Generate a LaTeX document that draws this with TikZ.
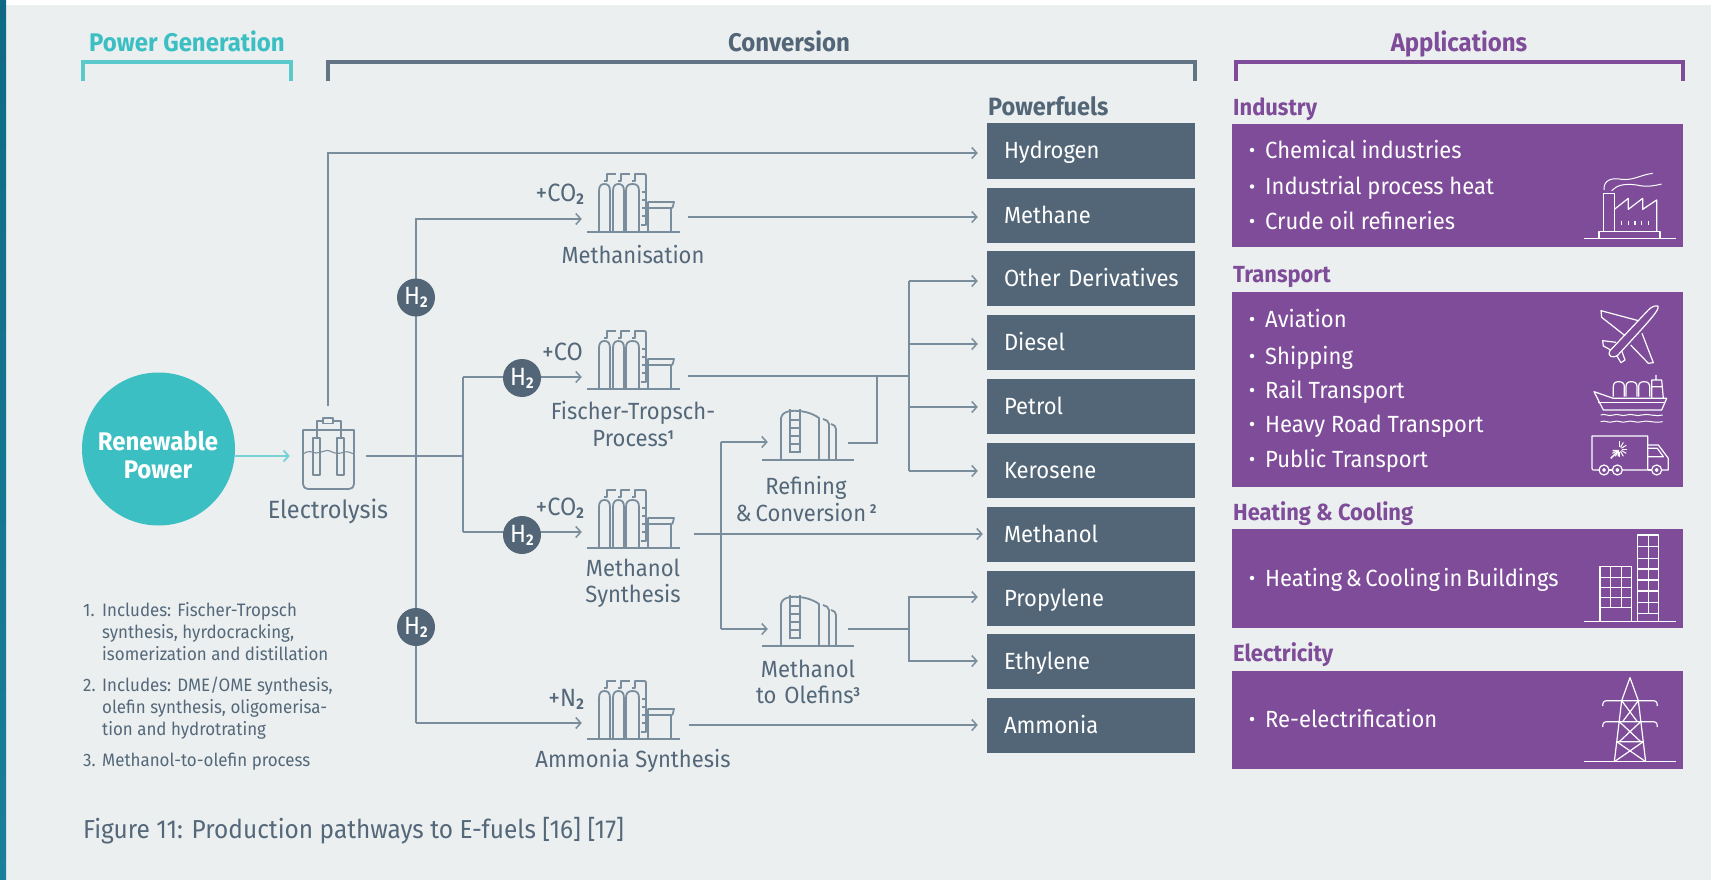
\documentclass[tikz,border=0pt]{standalone}
\usepackage{fontspec}
\setmainfont[FakeStretch=0.94]{Fira Sans}
\usetikzlibrary{arrows.meta,calc}
\definecolor{bgc}{HTML}{EBEFF0}
\definecolor{linec}{HTML}{7A8D9C}
\definecolor{darkc}{HTML}{526677}
\definecolor{textc}{HTML}{54687A}
\definecolor{tealc}{HTML}{3CBFC3}
\definecolor{purp}{HTML}{7E4C99}
\definecolor{stripa}{HTML}{0E6A84}
\definecolor{stripb}{HTML}{1A7F9A}
\newcommand\fs[1]{\fontsize{#1}{#1}\selectfont}
\newcommand\sbs[1]{\raisebox{-.22ex}{\scalebox{.62}{\textbf{#1}}}}
\newcommand\sps[1]{\raisebox{.62ex}{\scalebox{.55}{\textbf{#1}}}}
\tikzset{
  x=1pt,y=-1pt,
  conn/.style={draw=linec,line width=1.8pt},
  arrw/.style={conn,-{Straight Barb[length=5pt,width=11pt,line width=1.5pt]}},
  gapped/.style={shorten >=9pt},
  fuelbox/.style={fill=darkc,text=white,minimum width=208pt,minimum height=55pt,inner sep=0pt,align=left,text width=174pt,text height=16pt,text depth=0pt,font=\fs{23.4}},
  head/.style={font=\fs{25.5}\bfseries,inner sep=0pt,anchor=base},
  appbox/.style={fill=purp,inner sep=0pt,anchor=north west},
  apphead/.style={text=purp,font=\fs{23.3}\bfseries,anchor=west,inner sep=0pt,text height=16pt,text depth=0pt},
  bullet/.style={text=white,font=\fs{23.4},anchor=west,inner sep=0pt,text height=16pt,text depth=0pt},
  bdot/.style={circle,fill=white,inner sep=0pt,minimum size=4.5pt},
  lbl/.style={text=textc,font=\fs{23.4},align=center,inner sep=0pt},
  note/.style={text=textc,font=\fs{18},anchor=west,inner sep=0pt,text height=11pt,text depth=0pt},
  hub/.style={circle,fill=darkc,text=white,minimum size=38pt,inner sep=0pt,font=\fs{25}},
  unitbox/.style={minimum width=106pt,minimum height=60pt,inner sep=0pt},
  tankbox/.style={minimum width=80pt,minimum height=60pt,inner sep=0pt},
  bracket/.style={line width=3.2pt},
  pline/.style={draw=linec,line width=1.8pt,line join=round},
  iconw/.style={draw=white,line width=1.2pt,line join=round},
  reactor/.pic={
    \draw[pline] (0,0)--(93,0);
    \foreach \a/\w in {12/11,26/11,39/13}{\draw[pline] (\a,0)--(\a,-41) .. controls (\a,-46) and (\a+2,-48) .. (\a+\w/2,-48) .. controls (\a+\w-2,-48) and (\a+\w,-46) .. (\a+\w,-41)--(\a+\w,0);}
    \foreach \a in {17,31,45}{\draw[pline,line width=1.4pt] (\a,-51)--(\a+3,-51)--(\a+3,-58)--(\a+12,-58);}
    \draw[pline] (50,-58)--(57,-58) .. controls (59,-58) .. (59,-55)--(59,-7)--(54,-7);
    \foreach \b in {-40,-32,-24,-16}{\draw[pline,line width=1.4pt] (55,\b)--(59,\b);}
    \draw[pline] (61,0)--(61,-30)--(87,-30)--(86,-26) .. controls (85.5,-24) .. (84,-24)--(84,0);
    \draw[pline] (61,-24)--(84,-24);
  },
  tank/.pic={
    \draw[pline] (0,0)--(92,0);
    \draw[pline] (19,0)--(19,-42) .. controls (20,-47) and (24,-48) .. (28,-49) .. controls (40,-50) and (50,-47) .. (57,-42)--(57,0);
    \draw[pline] (61,-41) .. controls (64,-40) and (67,-39) .. (67,-36)--(67,0);
    \draw[pline] (69,-36) .. controls (72,-35) and (74,-34) .. (74,-31)--(74,0);
    \draw[pline] (28,-51)--(28,-7) (38,-51)--(38,-7);
    \foreach \b in {-40,-32,-24,-16,-8}{\draw[pline,line width=1.3pt] (28,\b)--(38,\b);}
  }
}
\begin{document}
\begin{tikzpicture}
\useasboundingbox (0,0) rectangle (1711,880);
\fill[white] (0,0) rectangle (1711,880);
\fill[bgc] (6,5) rectangle (1711,880);
\shade[top color=stripa,bottom color=stripb] (0,0) rectangle (6,880);

% brackets and column heads
\node[head,text=tealc] (hpow) at (187,52) {Power Generation};
\node[head,text=darkc] (hcon) at (789,52) {Conversion};
\node[head,text=purp] (happ) at (1459,52) {Applications};
\draw[bracket,draw=tealc!85] (83,81)--(83,62)--(291,62)--(291,81);
\draw[bracket,draw=darkc!90] (328,81)--(328,62)--(1195,62)--(1195,81);
\draw[bracket,draw=purp] (1236,81)--(1236,62)--(1683,62)--(1683,81);

% powerfuels
\node[text=darkc,font=\fs{25}\bfseries,anchor=base west,inner sep=0pt] (hfuel) at (988,116) {Powerfuels};
\node[fuelbox] (hyd) at (1091,151) {Hydrogen};
\node[fuelbox] (mth) at (1091,215.5) {Methane};
\node[fuelbox] (oth) at (1091,278) {\mbox{Other Derivatives}};
\node[fuelbox] (die) at (1091,342) {Diesel};
\node[fuelbox] (pet) at (1091,406) {Petrol};
\node[fuelbox] (ker) at (1091,470) {Kerosene};
\node[fuelbox] (mol) at (1091,534) {Methanol};
\node[fuelbox] (pro) at (1091,598) {Propylene};
\node[fuelbox] (eth) at (1091,661.5) {Ethylene};
\node[fuelbox] (amm) at (1091,725) {Ammonia};

% renewable and electrolysis
\node[circle,fill=tealc,minimum size=153pt,inner sep=0pt] (ren) at (158.5,449) {};
\node[text=white,font=\fs{25.5}\bfseries,align=center,inner sep=0pt] (rent) at (158,455) {Renewable\\[2.5pt]Power};
\node[minimum width=76pt,minimum height=90pt,inner sep=0pt] (ely) at (328,456) {};
\draw[pline] (303,432) -- (303,484) .. controls (303,487) and (305,489) .. (308,489) -- (349,489) .. controls (352,489) and (354,487) .. (354,484) -- (354,430) -- (303,430) -- (303,432);
\draw[pline] (317,438)--(317,421)--(323,421) (333,421)--(341,421)--(341,438);
\draw[pline] (323,418) rectangle (333,423.5);
\draw[pline] (313,438) rectangle (320,475);
\draw[pline] (337,438) rectangle (344,475);
\draw[pline,line width=1.1pt] (303,454) .. controls (308,450) and (312,452) .. (316,453) .. controls (322,453) and (326,449) .. (330,451) .. controls (335,454) and (340,454) .. (344,452) .. controls (348,451) and (351,453) .. (354,454);
\node[lbl,font=\fs{25}] (lely) at (328,511) {Electrolysis};

% units
\node[unitbox] (umth) at (635,218) {};
\node[unitbox] (uft) at (635,376) {};
\node[unitbox] (umol) at (635,533) {};
\node[unitbox] (uamm) at (635,724) {};
\node[tankbox] (uref) at (808,442) {};
\node[tankbox] (umto) at (808,629) {};
\pic at (587,232) {reactor};
\pic at (587,389) {reactor};
\pic at (587,548) {reactor};
\pic at (587,739) {reactor};
\pic at (762,460) {tank};
\pic at (762,646) {tank};

\node[lbl,anchor=east,font=\fs{25}] (lco2a) at (584,194) {+CO\sbs{2}};
\node[lbl,anchor=east,font=\fs{25}] (lco) at (583,352) {+CO};
\node[lbl,anchor=east,font=\fs{25}] (lco2b) at (584,508) {+CO\sbs{2}};
\node[lbl,anchor=east,font=\fs{25}] (ln2) at (584,699) {+N\sbs{2}};
\node[lbl] (lmth) at (633,255) {Methanisation};
\node[lbl,text width=200pt] (lft) at (633,424) {Fischer-Tropsch-\\[4pt]Process\sps{1}};
\node[lbl,text width=200pt] (lmol) at (633,583) {Methanol\\[3pt]Synthesis};
\node[lbl] (lamm) at (633,761) {Ammonia Synthesis};
\node[lbl,text width=200pt] (lref) at (806,499) {Refining\\[3pt]\&\,Conversion\,\sps{2}};
\node[lbl,text width=200pt] (lmto) at (808,682) {Methanol\\[3pt]to Olefins\sps{3}};

% junction coordinates
\coordinate (jh) at (328,153);
\coordinate (jb) at (463,456);
\coordinate (jmin) at (416,219);
\coordinate (jmout) at (688,217);
\coordinate (jftin) at (463,377);
\coordinate (jmolin) at (463,532);
\coordinate (jammin) at (416,723);
\coordinate (jammout) at (689,725);
\coordinate (jft) at (909,376);
\coordinate (jref) at (877,376);
\coordinate (jrefo) at (877,443);
\coordinate (jmolo) at (694,534);
\coordinate (jolt) at (721,442);
\coordinate (jolb) at (721,629);
\coordinate (jmto) at (909,629);

% connectors
\draw[conn,draw=tealc!70,line width=2.2pt,-{Straight Barb[length=5pt,width=11pt,line width=1.8pt]}] (ren.east |- ely.west) -- (ely.west);
\draw[arrw,gapped] (ely.north |- 0,406) -- (jh) -- (jh -| hyd.west);
\draw[conn] (ely.east) -- (jb);
\draw[arrw] (jammin) -- (jmin) -- (jmin -| umth.west);
\draw[arrw] (jammin) -- (jammin -| uamm.west);
\draw[arrw] (jftin) -- (jftin -| uft.west);
\draw[conn] (jftin) -- (jmolin);
\draw[arrw] (jmolin) -- (jmolin -| umol.west);
\draw[arrw,gapped] (jmout) -- (jmout -| mth.west);
\draw[conn] (uft.east |- jft) -- (jft);
\draw[conn] (jft) -- (jft |- 0,471);
\draw[arrw,gapped] (jft |- 0,281) -- (oth.west |- 0,281);
\draw[conn] (jft) -- (jft |- 0,281);
\draw[arrw,gapped] (jft |- 0,344) -- (die.west |- 0,344);
\draw[arrw,gapped] (jft |- 0,407) -- (pet.west |- 0,407);
\draw[arrw,gapped] (jft |- 0,471) -- (ker.west |- 0,471);
\draw[conn] (jref) -- (jrefo) -- (uref.east |- jrefo);
\draw[arrw,shorten >=4pt] (jmolo) -- (jmolo -| mol.west);
\draw[conn] (jolt) -- (jolb);
\draw[arrw] (jolt) -- (uref.west);
\draw[arrw] (jolb) -- (umto.west);
\draw[conn] (umto.east) -- (jmto);
\draw[arrw,gapped] (jmto) |- (pro.west |- 0,597);
\draw[arrw,gapped] (jmto) |- (eth.west |- 0,661);
\draw[arrw,gapped] (jammout) -- (jammout -| amm.west);

\node[hub] (h2a) at (416,297.5) {H\sbs{2}};
\node[hub] (h2b) at (416,627) {H\sbs{2}};
\node[hub] (h2c) at (522,378) {H\sbs{2}};
\node[hub] (h2d) at (522,535) {H\sbs{2}};

% notes
\node[note] (n1n) at (83,611) {1.};
\node[note] (n1a) at (102,611) {Includes: Fischer-Tropsch};
\node[note] (n1b) at (102,633) {synthesis, hyrdocracking,};
\node[note] (n1c) at (102,655) {isomerization and distillation};
\node[note] (n2n) at (83,686) {2.};
\node[note] (n2a) at (102,686) {Includes: DME/OME synthesis,};
\node[note] (n2b) at (102,708) {olefin synthesis, oligomerisa-};
\node[note] (n2c) at (102,730) {tion and hydrotrating};
\node[note] (n3n) at (83,761) {3.};
\node[note] (n3a) at (102,761) {Methanol-to-olefin process};
\node[text=textc,font=\fs{26},anchor=base west,inner sep=0pt] (cap) at (83,838) {Figure 11: Production pathways to E-fuels [16] [17]};

% applications
\node[apphead] (aind) at (1233,108) {Industry};
\node[apphead] (atra) at (1233,274) {Transport};
\node[apphead] (ahea) at (1233,512) {Heating \& Cooling};
\node[apphead] (aele) at (1233,653) {Electricity};
\node[appbox,minimum width=451pt,minimum height=123pt] (bind) at (1232,124) {};
\node[appbox,minimum width=451pt,minimum height=195pt] (btra) at (1232,292) {};
\node[appbox,minimum width=451pt,minimum height=99pt] (bhea) at (1232,529) {};
\node[appbox,minimum width=451pt,minimum height=98pt] (bele) at (1232,671) {};
\foreach \n/\yy/\t in {a/150/Chemical industries,b/186.5/Industrial process heat,c/221/Crude oil refineries,d/319/Aviation,e/356/Shipping,f/390/Rail Transport,g/424/Heavy Road Transport,h/459/Public Transport,i/578/{\spaceskip=.15em Heating \& Cooling in Buildings},j/719/Re-electrification}{
  \node[bdot] (dot\n) at (1252,\yy) {};
  \node[bullet] (it\n) at (1265,\yy) {\t};
}

\begin{scope}[shift={(1220,90)},x=0.33333pt,y=-0.33333pt]
 % factory
 \draw[iconw] (1092,445)--(1368,445);
 \draw[iconw] (1137,445)--(1137,425)--(1320,425)--(1320,445);
 \draw[iconw] (1150,425)--(1150,310)--(1183,310)--(1183,425);
 \draw[iconw] (1183,358)--(1225,325)--(1225,358)--(1268,325)--(1268,358)--(1310,330)--(1310,425);
 \foreach \q in {1205,1225,1245,1265,1285}{\draw[iconw,line width=1.6pt] (\q,392)--(\q,406);}
 \draw[iconw,line width=1pt] (1152,300) .. controls (1150,270) and (1175,262) .. (1205,268) .. controls (1240,272) and (1260,255) .. (1298,250);
 \draw[iconw,line width=1pt] (1175,302) .. controls (1190,285) and (1215,280) .. (1250,285) .. controls (1280,292) and (1300,288) .. (1325,282);
 % plane
 \draw[iconw] (1314,648) .. controls (1318,660) and (1300,680) .. (1192,797) .. controls (1180,805) and (1160,800) .. (1170,782) -- (1285,660) .. controls (1295,650) and (1305,646) .. (1314,648);
 \draw[iconw] (1255,692) -- (1143,662) -- (1145,682) -- (1215,737);
 \draw[iconw] (1266,730) -- (1300,818) -- (1285,820) -- (1232,765);
 \draw[iconw] (1188,757) -- (1148,752) -- (1150,768) -- (1172,780);
 \draw[iconw] (1205,782) -- (1215,810) -- (1203,818) -- (1190,797);
 % ship
 \draw[iconw] (1122,905)--(1180,925)--(1340,925)--(1325,960)--(1150,960)--cycle;
 \draw[iconw] (1135,938)--(1332,938);
 \foreach \q in {1180,1218,1256}{\draw[iconw] (\q,920)--(\q,890) .. controls (\q,880) and (\q+5,875) .. (\q+16,875) .. controls (\q+27,875) and (\q+33,880) .. (\q+33,890)--(\q+33,920);}
 \draw[iconw] (1295,925)--(1295,870)--(1325,870)--(1330,925) (1308,870)--(1308,855) (1295,890)--(1325,890);
 \foreach \q in {975,995}{\draw[iconw,line width=1pt] (1142,\q) .. controls (1155,\q-6) and (1165,\q+6) .. (1180,\q) .. controls (1195,\q-6) and (1205,\q+6) .. (1220,\q) .. controls (1235,\q-6) and (1250,\q+6) .. (1265,\q) .. controls (1285,\q-6) and (1300,\q+6) .. (1328,\q);}
 % truck
 \draw[iconw] (1137,1140)--(1122,1140) .. controls (1117,1140) .. (1116,1135)--(1116,1038)--(1283,1038)--(1283,1140)--(1207,1140);
 \draw[iconw] (1167,1140)--(1177,1140) (1283,1140)--(1295,1140);
 \draw[iconw] (1283,1065)--(1315,1065)--(1345,1105)--(1345,1140)--(1325,1140);
 \draw[iconw] (1283,1100)--(1330,1100)--(1312,1075)--(1283,1075);
 \foreach \q in {1152,1192,1310}{\draw[iconw] (\q,1140) circle (15); \draw[iconw] (\q,1140) circle (4);}
 \foreach \a in {0,30,60,90,120,-30,-60,-90,150}{\draw[iconw,line width=1pt] ($(1198,1078)+(\a:7)$)--($(1198,1078)+(\a:24)$);}
 \draw[iconw,line width=1.4pt] (1172,1105)--(1195,1082) (1178,1082)--(1195,1082)--(1195,1099);
\end{scope}

\begin{scope}[shift={(1220,490)},x=0.33333pt,y=-0.33333pt]
 % buildings
 \draw[iconw] (1092,395)--(1368,395);
 \draw[iconw] (1140,395)--(1140,230)--(1235,230)--(1235,395);
 \foreach \q in {262,292,322,352}{\draw[iconw] (1140,\q)--(1235,\q);}
 \foreach \q in {1172,1204}{\draw[iconw] (\q,230)--(\q,352);}
 \draw[iconw] (1253,395)--(1253,135)--(1315,135)--(1315,395);
 \foreach \q in {170,205,237,270,303,337,370}{\draw[iconw] (1253,\q)--(1315,\q);}
 \draw[iconw] (1285,135)--(1285,370);
 % pylon
 \draw[iconw] (1092,815)--(1368,815);
 \draw[iconw] (1183,815)--(1205,632)--(1230,563)--(1255,632)--(1277,815);
 \foreach \q in {632,695}{\draw[iconw] (1148,\q+16) .. controls (1148,\q+4) and (1152,\q) .. (1162,\q)--(1298,\q) .. controls (1308,\q) and (1312,\q+4) .. (1312,\q+16);}
 \draw[iconw] (1205,632)--(1252,695) (1255,632)--(1208,695);
 \draw[iconw] (1198,695)--(1262,755) (1262,695)--(1198,755) (1190,755)--(1270,755);
 \draw[iconw] (1190,755)--(1277,815) (1270,755)--(1183,815);
\end{scope}
\end{tikzpicture}
\end{document}
